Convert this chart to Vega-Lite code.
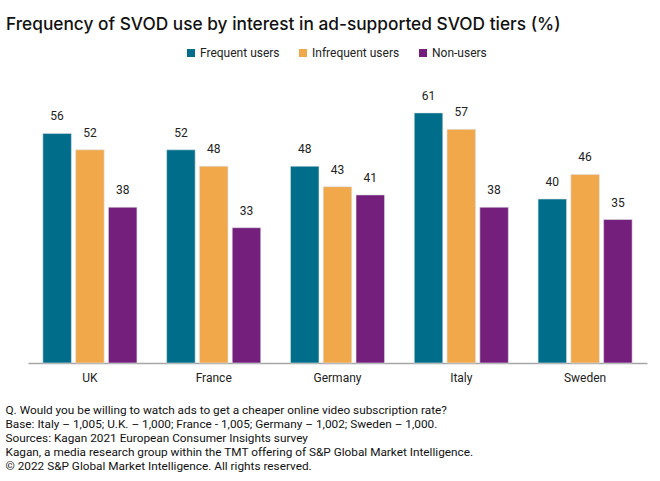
{
  "$schema": "https://vega.github.io/schema/vega-lite/v6.json",
  "width": 619,
  "height": 287,
  "autosize": {"type": "none"},
  "padding": {"left": 28, "top": 76, "right": 13, "bottom": 118},
  "background": "white",
  "title": {
    "text": "Frequency of SVOD use by interest in ad-supported SVOD tiers (%)",
    "anchor": "start",
    "frame": "group",
    "dx": -22,
    "offset": 14,
    "font": "Inter",
    "fontSize": 17.3,
    "fontWeight": 500,
    "color": "#111111"
  },
  "data": {
    "values": [
      {"country": "UK", "group": "Frequent users", "value": 56},
      {"country": "UK", "group": "Infrequent users", "value": 52},
      {"country": "UK", "group": "Non-users", "value": 38},
      {"country": "France", "group": "Frequent users", "value": 52},
      {"country": "France", "group": "Infrequent users", "value": 48},
      {"country": "France", "group": "Non-users", "value": 33},
      {"country": "Germany", "group": "Frequent users", "value": 48},
      {"country": "Germany", "group": "Infrequent users", "value": 43},
      {"country": "Germany", "group": "Non-users", "value": 41},
      {"country": "Italy", "group": "Frequent users", "value": 61},
      {"country": "Italy", "group": "Infrequent users", "value": 57},
      {"country": "Italy", "group": "Non-users", "value": 38},
      {"country": "Sweden", "group": "Frequent users", "value": 40},
      {"country": "Sweden", "group": "Infrequent users", "value": 46},
      {"country": "Sweden", "group": "Non-users", "value": 35}
    ]
  },
  "encoding": {
    "x": {
      "field": "country",
      "type": "nominal",
      "sort": ["UK", "France", "Germany", "Italy", "Sweden"],
      "scale": {"paddingInner": 0.24, "paddingOuter": 0.12},
      "axis": {
        "title": [
          "Q. Would you be willing to watch ads to get a cheaper online video subscription rate?",
          "Base: Italy – 1,005; U.K. – 1,000; France - 1,005; Germany – 1,002; Sweden – 1,000.",
          "Sources: Kagan 2021 European Consumer Insights survey",
          "Kagan, a media research group within the TMT offering of S&P Global Market Intelligence.",
          "© 2022 S&P Global Market Intelligence.  All rights reserved."
        ],
        "titleAnchor": "start",
        "titleAlign": "left",
        "titleBaseline": "top",
        "titleX": -23,
        "titleY": 41,
        "titleFont": "Roboto",
        "titleFontSize": 11.8,
        "titleFontWeight": "normal",
        "titleColor": "#111111",
        "titleLineHeight": 14,
        "labelAngle": 0,
        "labelFont": "Roboto",
        "labelFontSize": 12,
        "labelColor": "#222222",
        "labelPadding": 9,
        "ticks": false,
        "domainColor": "#a6a6a6",
        "domainWidth": 1.5
      }
    },
    "xOffset": {
      "field": "group",
      "type": "nominal",
      "sort": ["Frequent users", "Infrequent users", "Non-users"],
      "scale": {"paddingInner": 0.13}
    },
    "y": {
      "field": "value",
      "type": "quantitative",
      "scale": {"domain": [0, 70]},
      "axis": null
    }
  },
  "layer": [
    {
      "mark": {"type": "bar", "stroke": "#dde3ea", "strokeWidth": 0.6},
      "encoding": {
        "color": {
          "field": "group",
          "type": "nominal",
          "sort": ["Frequent users", "Infrequent users", "Non-users"],
          "scale": {"range": ["#006e8a", "#f0a84b", "#751f7c"]},
          "legend": {
            "title": null,
            "orient": "none",
            "direction": "horizontal",
            "legendX": 157,
            "legendY": -29,
            "symbolType": "square",
            "symbolSize": 64,
            "symbolStrokeWidth": 0,
            "labelFont": "Roboto",
            "labelFontSize": 12,
            "labelColor": "#222222",
            "labelOffset": 3,
            "columnPadding": 17
          }
        }
      }
    },
    {
      "mark": {"type": "text", "dy": -10, "font": "Roboto", "fontSize": 12, "color": "#222222", "baseline": "bottom"},
      "encoding": {"text": {"field": "value", "type": "quantitative"}}
    }
  ],
  "config": {"view": {"stroke": null}}
}
